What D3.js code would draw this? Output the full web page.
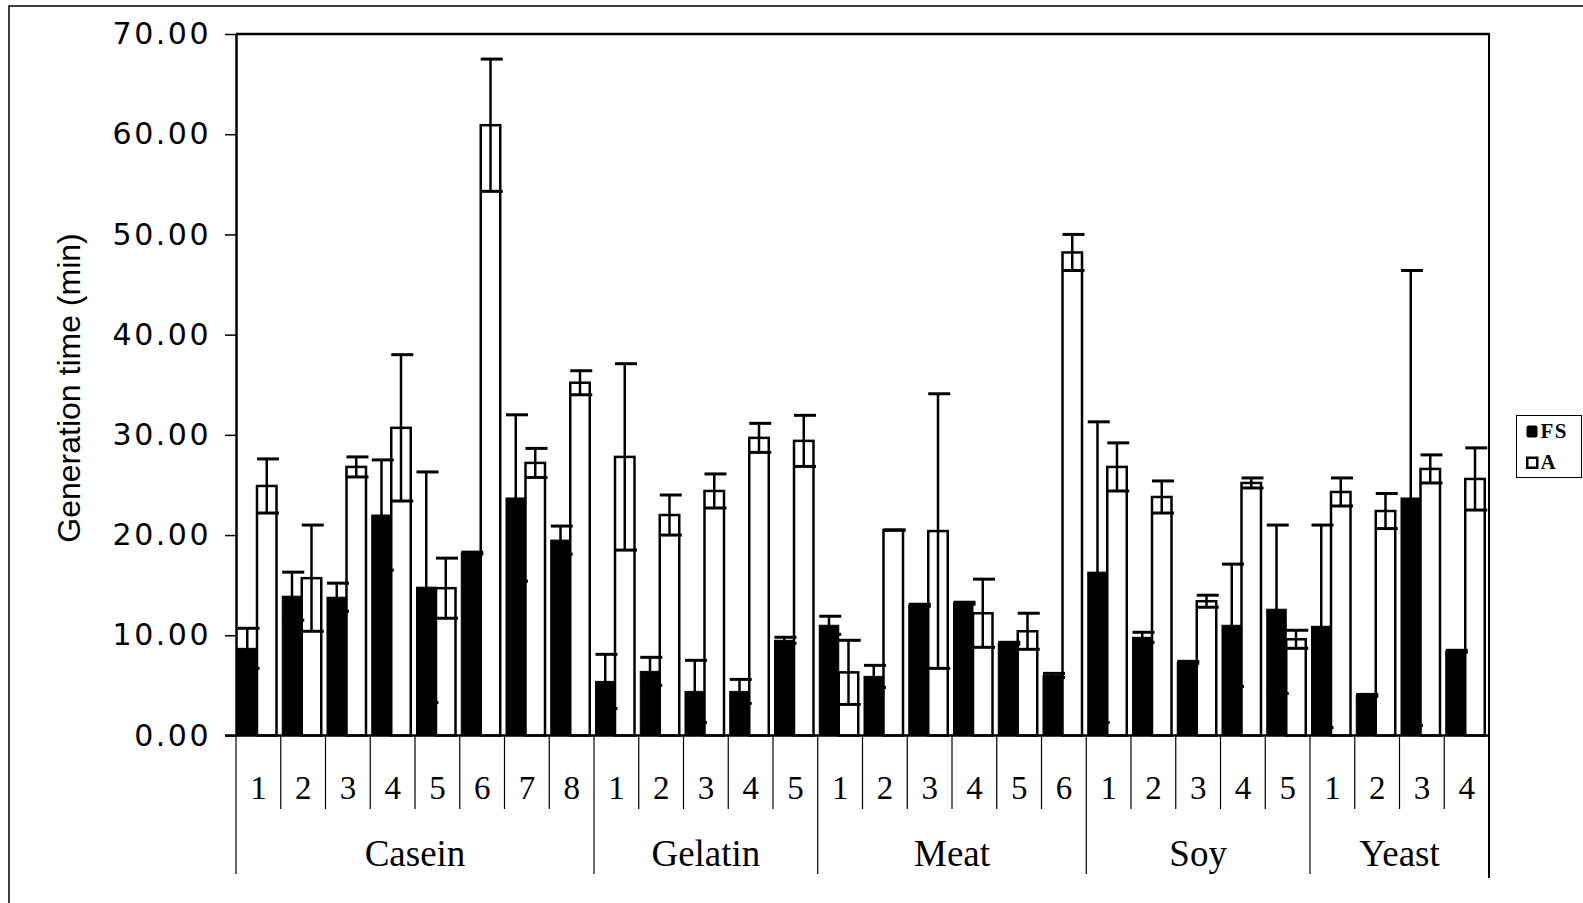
<!DOCTYPE html>
<html>
<head>
<meta charset="utf-8">
<script src="https://cdn.jsdelivr.net/npm/d3@7"></script>
<style>
  html, body { margin: 0; padding: 0; background: #fff; }
  svg { display: block; }
  .ytick text { font-family: "DejaVu Sans", sans-serif; font-size: 30px; letter-spacing: 2.5px; fill: #000; }
  .sub-label { font-family: "Liberation Serif", "Times New Roman", serif; font-size: 33px; }
  .group-label { font-family: "Liberation Serif", "Times New Roman", serif; font-size: 37px; }
  .y-title { font-family: "Liberation Sans", Arial, sans-serif; font-size: 32px; }
  .legend-text { font-family: "Liberation Serif", "Times New Roman", serif; font-size: 21px; font-weight: bold; letter-spacing: 1.5px; }
</style>
</head>
<body>
<div id="chart"></div>
<script>
const width = 1583;
const height = 903;

// groups of media and how many strains sit under each one
const groupNames = ['Casein', 'Gelatin', 'Meat', 'Soy', 'Yeast'];
const groupSizes = [8, 5, 6, 5, 4];
const subLabels = ['1','2','3','4','5','6','7','8', '1','2','3','4','5', '1','2','3','4','5','6', '1','2','3','4','5', '1','2','3','4'];
const seriesNames = ['FS', 'A'];

// generation time (min), mean and error
const fsMean = [8.7, 13.9, 13.8, 22.0, 14.8, 18.2, 23.7, 19.5, 5.4, 6.4, 4.4, 4.4, 9.5, 11.0, 5.9, 13.0, 13.2, 9.2, 6.0, 16.3, 9.8, 7.3, 11.0, 12.6, 10.9, 4.0, 23.7, 8.4];
const fsErr  = [2.0, 2.4, 1.4, 5.5, 11.5, 0.1, 8.3, 1.4, 2.7, 1.4, 3.1, 1.2, 0.3, 0.9, 1.1, 0.1, 0.1, 0.1, 0.2, 15.0, 0.5, 0.1, 6.1, 8.4, 10.1, 0.1, 22.7, 0.1];
const aMean  = [24.9, 15.7, 26.8, 30.7, 14.7, 60.9, 27.2, 35.2, 27.8, 22.0, 24.4, 29.7, 29.4, 6.3, 20.5, 20.4, 12.2, 10.4, 48.2, 26.8, 23.8, 13.4, 25.2, 9.6, 24.3, 22.4, 26.6, 25.6];
const aErr   = [2.7, 5.3, 1.0, 7.3, 3.0, 6.6, 1.45, 1.2, 9.3, 2.0, 1.7, 1.45, 2.55, 3.2, 0, 13.7, 3.4, 1.8, 1.8, 2.4, 1.6, 0.6, 0.5, 0.9, 1.4, 1.75, 1.4, 3.1];
const yTicks = [0, 10, 20, 30, 40, 50, 60, 70];

// build one row per strain
const groupOf = [];
groupNames.forEach((g, gi) => { for (let k = 0; k < groupSizes[gi]; k++) groupOf.push(g); });
const rows = subLabels.map((s, i) => ({
  key: i,
  group: groupOf[i],
  label: s,
  values: [
    { series: 'FS', mean: fsMean[i], err: fsErr[i] },
    { series: 'A', mean: aMean[i], err: aErr[i] }
  ]
}));

const plotLeft = 236;
const plotRight = 1489;
const plotTop = 34;
const plotBottom = 735.5;

const svg = d3.select('#chart')
  .append('svg')
  .attr('width', width)
  .attr('height', height);

// outer frame of the figure
svg.append('rect')
  .attr('x', 9).attr('y', 6)
  .attr('width', width + 20).attr('height', height + 20)
  .attr('fill', 'none').attr('stroke', '#000').attr('stroke-width', 1.5);

const x = d3.scaleBand()
  .domain(rows.map((d) => d.key))
  .range([plotLeft, plotRight])
  .padding(0);

const xInner = d3.scaleBand()
  .domain(seriesNames)
  .range([1.5, 40.5]);

const y = d3.scaleLinear()
  .domain([0, 70])
  .range([plotBottom, plotTop]);

// plot frame: top and right
svg.append('line')
  .attr('x1', plotLeft).attr('x2', plotRight)
  .attr('y1', y(70)).attr('y2', y(70))
  .attr('stroke', '#000').attr('stroke-width', 2.5);
svg.append('line')
  .attr('x1', plotRight).attr('x2', plotRight)
  .attr('y1', y(70) - 1).attr('y2', 878)
  .attr('stroke', '#000').attr('stroke-width', 2);

// category separators below the axis
const bounds = rows.map((d) => x(d.key)).concat([plotRight]);
const groupStarts = [];
let acc = 0;
groupSizes.forEach((n) => { groupStarts.push(acc); acc += n; });
groupStarts.push(rows.length);

svg.append('g')
  .selectAll('line')
  .data(bounds)
  .enter().append('line')
    .attr('x1', (d) => d).attr('x2', (d) => d)
    .attr('y1', plotBottom)
    .attr('y2', (d, i) => groupStarts.includes(i) ? 874 : 809)
    .attr('stroke', '#000')
    .attr('stroke-width', 1.2);

svg.append('g')
  .selectAll('text')
  .data(rows)
  .enter().append('text')
    .attr('class', 'sub-label')
    .attr('x', (d) => x(d.key) + x.bandwidth() / 2)
    .attr('y', 799)
    .attr('text-anchor', 'middle')
    .text((d) => d.label);

svg.append('g')
  .selectAll('text')
  .data(groupNames)
  .enter().append('text')
    .attr('class', 'group-label')
    .attr('x', (d, i) => (bounds[groupStarts[i]] + bounds[groupStarts[i + 1]]) / 2)
    .attr('y', 866)
    .attr('text-anchor', 'middle')
    .text((d) => d);

// bars
const cell = svg.append('g')
  .selectAll('g')
  .data(rows)
  .enter().append('g')
    .attr('transform', (d) => `translate(${x(d.key)}, 0)`);

cell.selectAll('rect')
  .data((d) => d.values)
  .enter().append('rect')
    .attr('x', (d) => xInner(d.series))
    .attr('y', (d) => y(d.mean))
    .attr('width', xInner.bandwidth())
    .attr('height', (d) => y(0) - y(d.mean))
    .attr('fill', (d) => d.series === 'FS' ? '#000' : '#fff')
    .attr('stroke', '#000')
    .attr('stroke-width', (d) => d.series === 'FS' ? 1 : 2.5);

// error bars
const bw = xInner.bandwidth();
const err = cell.selectAll('g.err')
  .data((d) => d.values)
  .enter().append('g')
    .attr('class', 'err')
    .attr('transform', (d) => `translate(${xInner(d.series) + bw / 2}, 0)`);

err.append('line')
  .attr('x1', 0).attr('x2', 0)
  .attr('y1', (d) => y(d.mean + d.err))
  .attr('y2', (d) => y(Math.max(0, d.mean - d.err)))
  .attr('stroke', '#000').attr('stroke-width', 2.5);

err.selectAll('line.cap')
  .data((d) => [d.mean + d.err, Math.max(0, d.mean - d.err)])
  .enter().append('line')
    .attr('class', 'cap')
    .attr('x1', -bw / 2).attr('x2', bw / 2 + 2.5)
    .attr('y1', (d) => y(d)).attr('y2', (d) => y(d))
    .attr('stroke', '#000').attr('stroke-width', 3);

// y axis
const yAxis = svg.append('g')
  .attr('class', 'ytick')
  .attr('transform', `translate(${plotLeft}, 0)`)
  .call(d3.axisLeft(y)
    .tickValues(yTicks)
    .tickFormat(d3.format('.2f'))
    .tickSize(11)
    .tickSizeOuter(0)
    .tickPadding(14));
yAxis.select('.domain').attr('stroke-width', 2.5);
yAxis.selectAll('.tick line').attr('stroke-width', 1.5);

// x axis line at zero
svg.append('line')
  .attr('x1', plotLeft - 11).attr('x2', plotRight)
  .attr('y1', y(0)).attr('y2', y(0))
  .attr('stroke', '#000').attr('stroke-width', 2.5);

svg.append('text')
  .attr('class', 'y-title')
  .attr('transform', 'translate(80, 388) rotate(-90)')
  .attr('text-anchor', 'middle')
  .text('Generation time (min)');

// legend
const legend = svg.append('g')
  .attr('transform', 'translate(1516.5, 415.5)');
legend.append('rect')
  .attr('width', 65).attr('height', 62)
  .attr('fill', '#fff').attr('stroke', '#000').attr('stroke-width', 1);

const legendItem = legend.selectAll('g')
  .data(seriesNames)
  .enter().append('g')
    .attr('transform', (d, i) => `translate(10, ${10 + i * 31})`);

legendItem.append('rect')
  .attr('x', (d) => d === 'FS' ? 0 : 0.75)
  .attr('y', (d) => d === 'FS' ? 0 : 1.25)
  .attr('width', (d) => d === 'FS' ? 11 : 10)
  .attr('height', (d) => d === 'FS' ? 12 : 10)
  .attr('rx', (d) => d === 'FS' ? 2 : 0)
  .attr('fill', (d) => d === 'FS' ? '#000' : '#fff')
  .attr('stroke', '#000')
  .attr('stroke-width', (d) => d === 'FS' ? 0 : 2.5);

legendItem.append('text')
  .attr('class', 'legend-text')
  .attr('x', 14)
  .attr('y', (d) => d === 'FS' ? 12.5 : 12)
  .text((d) => d);
</script>
</body>
</html>
